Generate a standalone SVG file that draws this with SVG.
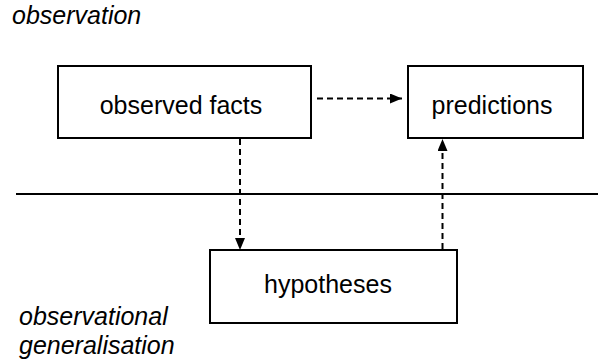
<svg xmlns="http://www.w3.org/2000/svg" width="598" height="362" viewBox="0 0 598 362">
<style>
.box{fill:#fff;stroke:#000;stroke-width:2}
.lbl{font-family:"Liberation Sans",Arial,sans-serif;font-size:25px;fill:#000}
.it{font-family:"Liberation Sans",Arial,sans-serif;font-size:25px;font-style:italic;fill:#000}
.dash{fill:none;stroke:#000;stroke-width:2;stroke-dasharray:6,4}
</style>
<defs>
<marker id="ah" viewBox="0 0 12 10" refX="12" refY="5" markerWidth="12" markerHeight="10" markerUnits="userSpaceOnUse" orient="auto">
<path d="M0,0 L12,5 L0,10 Z" fill="#000"/>
</marker>
</defs>
<rect width="598" height="362" fill="#fff"/>
<line x1="16" y1="194" x2="598" y2="194" stroke="#000" stroke-width="2"/>
<text class="it" x="12" y="24">observation</text>
<text class="it" x="19" y="325">observational</text>
<text class="it" x="19" y="354">generalisation</text>
<g id="observed-facts">
<rect class="box" x="58" y="66" width="253" height="72"/>
<text class="lbl" x="181" y="114" text-anchor="middle">observed facts</text>
</g>
<g id="predictions">
<rect class="box" x="408" y="66" width="175" height="72"/>
<text class="lbl" x="492" y="114" text-anchor="middle">predictions</text>
</g>
<g id="hypotheses">
<rect class="box" x="210" y="250" width="247" height="73"/>
<text class="lbl" x="328" y="293" text-anchor="middle">hypotheses</text>
</g>
<g id="connectors">
<line class="dash" x1="317" y1="98.5" x2="402" y2="98.5" marker-end="url(#ah)"/>
<line class="dash" x1="240" y1="139" x2="240" y2="250" marker-end="url(#ah)"/>
<line class="dash" x1="442.5" y1="249" x2="442.5" y2="139" marker-end="url(#ah)"/>
</g>
</svg>
